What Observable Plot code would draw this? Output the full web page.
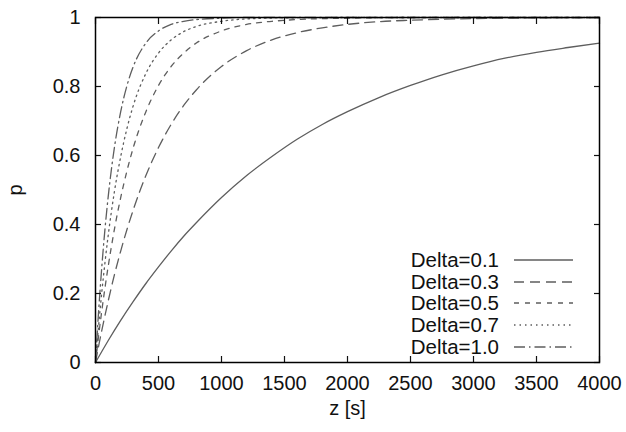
<!DOCTYPE html>
<html>
<head>
<meta charset="utf-8">
<script src="https://cdn.jsdelivr.net/npm/d3@7"></script>
<script src="https://cdn.jsdelivr.net/npm/@observablehq/plot@0.6"></script>
<style>
  body { margin: 0; background: #fff; }
  #chart { position: relative; width: 626px; height: 432px; font-family: "Liberation Sans", Arial, sans-serif; }
  #legend { position: absolute; left: 360px; top: 249px; font-size: 20.5px; color: #111; }
  #legend .row { display: flex; align-items: center; height: 21.75px; }
  #legend .name { width: 139px; text-align: right; }
  #legend svg { margin-left: 15px; }
</style>
</head>
<body>
<div id="chart"><div id="legend"></div></div>
<script>
// Detection probability p against elapsed time z, one curve per Delta.
const seriesNames = ["Delta=0.1", "Delta=0.3", "Delta=0.5", "Delta=0.7", "Delta=1.0"];

const z01 = [0, 50, 100, 150, 200, 300, 400, 500, 600, 700, 800, 1000, 1200, 1400, 1600, 1800, 2000, 2250, 2500, 2750, 3000, 3250, 3500, 3750, 4000];
const p01 = [0, 0.032, 0.063, 0.093, 0.122, 0.177, 0.229, 0.277, 0.323, 0.366, 0.405, 0.478, 0.542, 0.597, 0.647, 0.690, 0.727, 0.768, 0.803, 0.834, 0.860, 0.882, 0.899, 0.913, 0.926];

const z03 = [0, 25, 50, 100, 150, 200, 300, 400, 500, 600, 700, 800, 1000, 1200, 1400, 1600, 1800, 2000, 2250, 2500, 2750, 3000, 3500, 4000];
const p03 = [0, 0.048, 0.093, 0.177, 0.254, 0.323, 0.443, 0.542, 0.623, 0.690, 0.745, 0.790, 0.858, 0.904, 0.935, 0.956, 0.970, 0.980, 0.988, 0.992, 0.995, 0.997, 0.999, 1];

const z05 = [0, 25, 50, 75, 100, 150, 200, 250, 300, 400, 500, 600, 700, 800, 1000, 1200, 1400, 1600, 2000, 2500, 3000, 4000];
const p05 = [0, 0.078, 0.150, 0.216, 0.277, 0.386, 0.478, 0.556, 0.623, 0.727, 0.803, 0.858, 0.897, 0.926, 0.961, 0.980, 0.989, 0.994, 0.998, 1, 1, 1];

const z07 = [0, 25, 50, 75, 100, 150, 200, 250, 300, 400, 500, 600, 700, 800, 1000, 1200, 1500, 2000, 4000];
const p07 = [0, 0.108, 0.204, 0.289, 0.366, 0.495, 0.597, 0.679, 0.745, 0.838, 0.897, 0.935, 0.959, 0.974, 0.989, 0.996, 0.999, 1, 1];

const z10 = [0, 25, 50, 75, 100, 150, 200, 250, 300, 400, 500, 600, 700, 800, 1000, 1200, 4000];
const p10 = [0, 0.150, 0.277, 0.386, 0.478, 0.623, 0.727, 0.803, 0.858, 0.926, 0.961, 0.980, 0.989, 0.994, 0.998, 1, 1];

const xTicks = [0, 500, 1000, 1500, 2000, 2500, 3000, 3500, 4000];
const yTicks = [0, 0.2, 0.4, 0.6, 0.8, 1];

// Line styling, gnuplot-like dash patterns
const lineColor = "#5e5e5e";
const dashes = [null, "10,6", "5,6", "1.5,4", "11,4,1.5,4"];

const zs = [z01, z03, z05, z07, z10];
const ps = [p01, p03, p05, p07, p10];
const rows = seriesNames.flatMap((name, k) => zs[k].map((z, i) => ({series: name, z, p: ps[k][i]})));

const font = '"Liberation Sans", Arial, sans-serif';

const chart = Plot.plot({
  width: 626,
  height: 432,
  marginLeft: 95,
  marginRight: 27,
  marginTop: 17,
  marginBottom: 70,
  style: {fontFamily: font, fontSize: "20px", color: "#111", background: "#fff", overflow: "visible"},
  x: {domain: [0, 4000]},
  y: {domain: [0, 1]},
  marks: [
    ...seriesNames.map((name, k) =>
      Plot.line(rows.filter(d => d.series === name), {
        x: "z", y: "p", stroke: lineColor, strokeWidth: 1.3,
        strokeDasharray: dashes[k], curve: "monotone-x"
      })
    ),
    // inward tick marks on all four sides
    Plot.axisX(xTicks, {anchor: "bottom", tickSize: -6, tickFormat: () => "", label: null, strokeWidth: 1.2}),
    Plot.axisX(xTicks, {anchor: "top", tickSize: -6, tickFormat: () => "", label: null, strokeWidth: 1.2}),
    Plot.axisY(yTicks, {anchor: "left", tickSize: -6, tickFormat: () => "", label: null, strokeWidth: 1.2}),
    Plot.axisY(yTicks, {anchor: "right", tickSize: -6, tickFormat: () => "", label: null, strokeWidth: 1.2}),
    // tick labels and axis titles
    Plot.axisX(xTicks, {anchor: "bottom", tickSize: 0, tickPadding: 13, tickFormat: d => String(d),
      label: "z [s]", labelAnchor: "center", labelArrow: "none", labelOffset: 52}),
    Plot.axisY(yTicks, {anchor: "left", tickSize: 0, tickPadding: 15, tickFormat: d => String(d),
      label: "p", labelAnchor: "center", labelArrow: "none", labelOffset: 88}),
    Plot.frame({stroke: "#000", strokeWidth: 1.5})
  ]
});

const host = document.getElementById("chart");
host.insertBefore(chart, host.firstChild);

// Key: series name followed by a sample of its line style
const legend = d3.select("#legend");
seriesNames.forEach((name, k) => {
  const row = legend.append("div").attr("class", "row");
  row.append("span").attr("class", "name").text(name);
  const svg = row.append("svg").attr("width", 60).attr("height", 10);
  svg.append("line")
    .attr("x1", 0).attr("x2", 59).attr("y1", 5).attr("y2", 5)
    .attr("stroke", lineColor).attr("stroke-width", 1.3)
    .attr("stroke-dasharray", dashes[k]);
});
</script>
</body>
</html>
